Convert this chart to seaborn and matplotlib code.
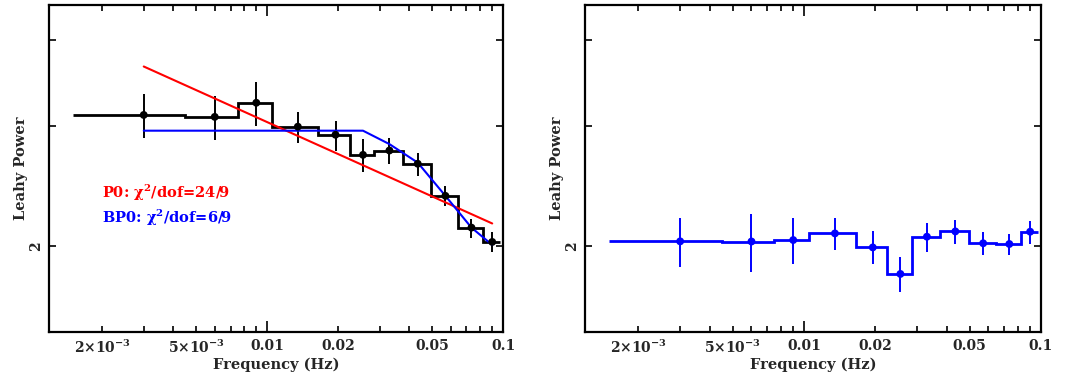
import numpy as np
import pandas as pd
import matplotlib
matplotlib.use("Agg")
import matplotlib.pyplot as plt
import matplotlib.ticker as mticker
import seaborn as sns

# --- data ---
freq = [0.003, 0.006, 0.009, 0.0135, 0.0195, 0.0255, 0.033, 0.0435, 0.057, 0.0735, 0.09]
half_width = [0.0015, 0.0015, 0.0015, 0.003, 0.003, 0.003, 0.0045, 0.006, 0.0075, 0.009, 0.0075]

# left panel: data + models
power_a = [3.11, 3.09, 3.24, 2.99, 2.91, 2.72, 2.76, 2.64, 2.37, 2.13, 2.03]
err_lo_a = [2.88, 2.86, 3.00, 2.83, 2.76, 2.57, 2.64, 2.53, 2.29, 2.06, 1.96]
err_hi_a = [3.34, 3.32, 3.47, 3.14, 3.05, 2.87, 2.88, 2.74, 2.45, 2.19, 2.10]
pl_freq = [0.003, 0.09]
pl_model = [3.66, 2.16]
bpl_model = [2.95, 2.95, 2.95, 2.95, 2.95, 2.95, 2.82, 2.65, 2.37, 2.13, 2.01]

# right panel
power_b = [2.034, 2.033, 2.043, 2.089, 1.993, 1.823, 2.066, 2.103, 2.021, 2.016, 2.101]
err_lo_b = [1.866, 1.838, 1.885, 1.975, 1.883, 1.714, 1.962, 2.016, 1.945, 1.945, 2.016]
err_hi_b = [2.20, 2.23, 2.20, 2.20, 2.103, 1.929, 2.166, 2.188, 2.096, 2.087, 2.177]

sns.set_theme(style="ticks")
plt.rcParams['font.family'] = ['DejaVu Serif']
plt.rcParams['mathtext.fontset'] = 'dejavuserif'
plt.rcParams['font.weight'] = 'bold'
plt.rcParams['axes.labelweight'] = 'bold'

fig = plt.figure(figsize=(10.68, 3.74), dpi=100)
ax1 = fig.add_axes([49 / 1068, 1 - 332 / 374, 454 / 1068, 327 / 374])
ax2 = fig.add_axes([585 / 1068, 1 - 332 / 374, 456 / 1068, 327 / 374])

f = np.array(freq)
hw = np.array(half_width)
edges = np.append(f - hw, f[-1] + hw[-1])


def style_axes(ax):
    ax.set_xscale('log')
    ax.set_yscale('log')
    ax.set_xlim(1.19e-3, 0.1)
    ax.set_ylim(1.5, 4.5)
    ax.xaxis.set_major_locator(mticker.FixedLocator([1e-3, 1e-2, 1e-1]))
    ax.xaxis.set_minor_locator(mticker.LogLocator(base=10, subs=np.arange(2, 10)))
    ax.xaxis.set_major_formatter(mticker.FixedFormatter(['', '0.01', '0.1']))

    def minor_fmt(x, pos):
        lab = {2e-3: r'2$\times$10$^{\mathbf{-3}}$', 5e-3: r'5$\times$10$^{\mathbf{-3}}$',
               2e-2: '0.02', 5e-2: '0.05'}
        for k, v in lab.items():
            if abs(x - k) / k < 1e-6:
                return v
        return ''
    ax.xaxis.set_minor_formatter(mticker.FuncFormatter(minor_fmt))

    ax.yaxis.set_major_locator(mticker.FixedLocator([2, 3, 4]))
    ax.yaxis.set_minor_locator(mticker.NullLocator())
    ax.yaxis.set_major_formatter(mticker.FixedFormatter(['2', '', '']))
    for lab in ax.get_yticklabels():
        lab.set_rotation(90)
        lab.set_va('center')

    ax.tick_params(which='both', direction='in', top=True, right=True,
                   color='black', width=1.2, labelsize=10)
    ax.tick_params(axis='x', which='both', pad=5)
    ax.tick_params(axis='y', which='both', pad=4)
    ax.tick_params(axis='x', which='major', length=8)
    ax.tick_params(axis='x', which='minor', length=4)
    ax.tick_params(axis='y', which='major', length=5)
    for s in ax.spines.values():
        s.set_linewidth(1.6)
        s.set_color('black')
    ax.set_xlabel('Frequency (Hz)', fontsize=10.5, labelpad=1)
    ax.set_ylabel('Leahy Power', fontsize=10.5, labelpad=1)
    for lab in ax.get_xticklabels(which='both') + ax.get_yticklabels():
        lab.set_fontweight('bold')


# --- left panel ---
ax1.stairs(power_a, edges, color='black', linewidth=2, baseline=None)
ax1.errorbar(freq, power_a,
             yerr=[np.array(power_a) - np.array(err_lo_a), np.array(err_hi_a) - np.array(power_a)],
             fmt='none', ecolor='black', elinewidth=1.4)
sns.scatterplot(x=freq, y=power_a, ax=ax1, color='black', s=32, edgecolor='none', zorder=5)
sns.lineplot(x=pl_freq, y=pl_model, ax=ax1, color='red', linewidth=1.5, estimator=None, sort=False)
sns.lineplot(x=freq, y=bpl_model, ax=ax1, color='blue', linewidth=1.5, estimator=None, sort=False)
ax1.text(0.116, 0.426, r'P0: $\mathbf{\chi^2}$/dof=24/9', transform=ax1.transAxes,
         color='red', fontsize=10.5, fontweight='bold', va='center')
ax1.text(0.116, 0.349, r'BP0: $\mathbf{\chi^2}$/dof=6/9', transform=ax1.transAxes,
         color='blue', fontsize=10.5, fontweight='bold', va='center')
style_axes(ax1)

# --- right panel ---
ax2.stairs(power_b, edges, color='blue', linewidth=2, baseline=None)
ax2.errorbar(freq, power_b,
             yerr=[np.array(power_b) - np.array(err_lo_b), np.array(err_hi_b) - np.array(power_b)],
             fmt='none', ecolor='blue', elinewidth=1.4)
sns.scatterplot(x=freq, y=power_b, ax=ax2, color='blue', s=32, edgecolor='none', zorder=5)
style_axes(ax2)

fig.savefig('out.png', dpi=100)
